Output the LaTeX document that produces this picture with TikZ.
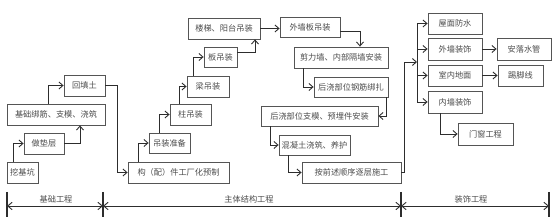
\documentclass[tikz,border=0pt]{standalone}
\usepackage{fontspec}
\newfontfamily\cjk{Noto Sans CJK SC}
\usetikzlibrary{arrows.meta}
\definecolor{boxgray}{RGB}{85,85,85}
\definecolor{linegray}{RGB}{45,45,45}
\definecolor{textgray}{RGB}{75,75,75}

\begin{document}
\begin{tikzpicture}[x=1pt,y=-1pt,
  box/.style={draw=boxgray,line width=0.8pt,inner sep=0pt,minimum height=21pt,text=textgray,font=\cjk\fontsize{8.2}{9}\selectfont},
  arr/.style={draw=linegray,line width=0.9pt,-{Straight Barb[length=4pt,width=7pt]}},
  ln/.style={draw=linegray,line width=0.9pt},
  dim/.style={draw=linegray,line width=0.9pt,{Straight Barb[length=4.5pt,width=7.5pt]}-{Straight Barb[length=4.5pt,width=7.5pt]}},
  tick/.style={draw=linegray,line width=1.4pt},
  lbl/.style={text=textgray,font=\cjk\fontsize{8.2}{9}\selectfont}]
  \useasboundingbox (0,0) rectangle (554,221);
  \node[box,minimum width=31pt] (wajikeng) at (22.5,172.5) {挖基坑};
  \node[box,minimum width=40pt] (dianceng) at (44,143.5) {做垫层};
  \node[box,minimum width=98pt] (jichu) at (56,114.5) {基础绑筋、支模、浇筑};
  \node[box,minimum width=41pt] (huitian) at (84.5,85.5) {回填土};
  \node[box,minimum width=101pt] (yuzhi) at (178.5,172.5) {构（配）件工厂化预制};
  \node[box,minimum width=41pt,minimum height=20pt] (zhunbei) at (169.5,143) {吊装准备};
  \node[box,minimum width=41pt] (zhu) at (190.5,114.5) {柱吊装};
  \node[box,minimum width=42pt] (liang) at (208,86.5) {梁吊装};
  \node[box,minimum width=33pt,minimum height=20pt] (ban) at (220.5,57) {板吊装};
  \node[box,minimum width=72pt] (louti) at (224,28.5) {楼梯、阳台吊装};
  \node[box,minimum width=60pt,minimum height=20pt] (waiqiangban) at (310,27) {外墙板吊装};
  \node[box,minimum width=94pt] (jianli) at (341,57.5) {剪力墙、内部隔墙安装};
  \node[box,minimum width=74pt,minimum height=20pt] (gangjin) at (351,87) {后浇部位钢筋绑扎};
  \node[box,minimum width=117pt,minimum height=20pt] (zhimo) at (319.5,116) {后浇部位支模、预埋件安装};
  \node[box,minimum width=71pt,minimum height=20pt] (hunningtu) at (314.5,145) {混凝土浇筑、养护};
  \node[box,minimum width=99pt] (zhuceng) at (351.5,172.5) {按前述顺序逐层施工};
  \node[box,minimum width=54pt] (wumian) at (455,23.5) {屋面防水};
  \node[box,minimum width=54pt,minimum height=22pt] (waiqiang) at (455,49) {外墙装饰};
  \node[box,minimum width=54pt,minimum height=22pt] (luoshui) at (524,49) {安落水管};
  \node[box,minimum width=54pt] (dimian) at (455,75.5) {室内地面};
  \node[box,minimum width=45pt] (tijiao) at (520.5,75.5) {踢脚线};
  \node[box,minimum width=54pt,minimum height=22pt] (neiqiang) at (455,102) {内墙装饰};
  \node[box,minimum width=55pt,minimum height=22pt] (menchuang) at (485.5,134) {门窗工程};
  \draw[arr] ([xshift=-9.5]wajikeng.north) |- (dianceng.west);
  \draw[arr] (dianceng.east) -| ([xshift=24]jichu.south);
  \draw[arr] ([xshift=-8]jichu.north) |- (huitian.west);
  \draw[arr] (huitian.east) -- ++(12,0) |- (yuzhi.west);
  \draw[arr] ([xshift=-40.5]yuzhi.north) |- (zhunbei.west);
  \draw[arr] ([xshift=-10.5]zhunbei.north) |- (zhu.west);
  \draw[arr] ([xshift=-11.5]zhu.north) |- (liang.west);
  \draw[arr] ([xshift=-15]liang.north) |- (ban.west);
  \draw[arr] ([yshift=5]ban.east) -| ([xshift=31]louti.south);
  \draw[arr] (louti.east) -- (louti.east -| waiqiangban.west);
  \draw[arr] ([yshift=-4]waiqiangban.east) -| ([xshift=19]jianli.north);
  \draw[arr] ([xshift=-38]jianli.south) |- (gangjin.west);
  \draw[arr] ([xshift=35]gangjin.south) |- (zhimo.east);
  \draw[arr] ([xshift=-49.5]zhimo.south) |- (hunningtu.west);
  \draw[arr] ([xshift=-26.5]hunningtu.south) |- (zhuceng.west);
  \coordinate (bus) at (417,62);
  \draw[arr] (zhuceng.east) -- ++(3,0) |- (bus);
  \draw[ln] (wumian.west -| bus) -- (neiqiang.west -| bus);
  \foreach \n in {wumian,waiqiang,dimian,neiqiang}{
    \draw[arr] (\n.west -| bus) -- (\n.west);
  }
  \draw[arr] (waiqiang.east) -- (luoshui.west);
  \draw[arr] (dimian.east) -- (tijiao.west);
  \draw[arr] ([xshift=-15]neiqiang.south) |- (menchuang.west);
  \coordinate (t1) at (7,206);
  \coordinate (t2) at (103,206);
  \coordinate (t3) at (401,206);
  \coordinate (t4) at (549,206);
  \foreach \t in {t1,t2,t3,t4}{
    \draw[tick] ([yshift=14]\t) -- ([yshift=-11]\t);
  }
  \draw[dim] (t1) -- (t2);
  \draw[dim] (t2) -- (t3);
  \draw[dim] (t3) -- (t4);
  \node[lbl] (jichugc) at (56,199.5) {基础工程};
  \node[lbl] (zhutigc) at (249,199.5) {主体结构工程};
  \node[lbl] (zhuangshigc) at (471,199.5) {装饰工程};
\end{tikzpicture}
\end{document}
